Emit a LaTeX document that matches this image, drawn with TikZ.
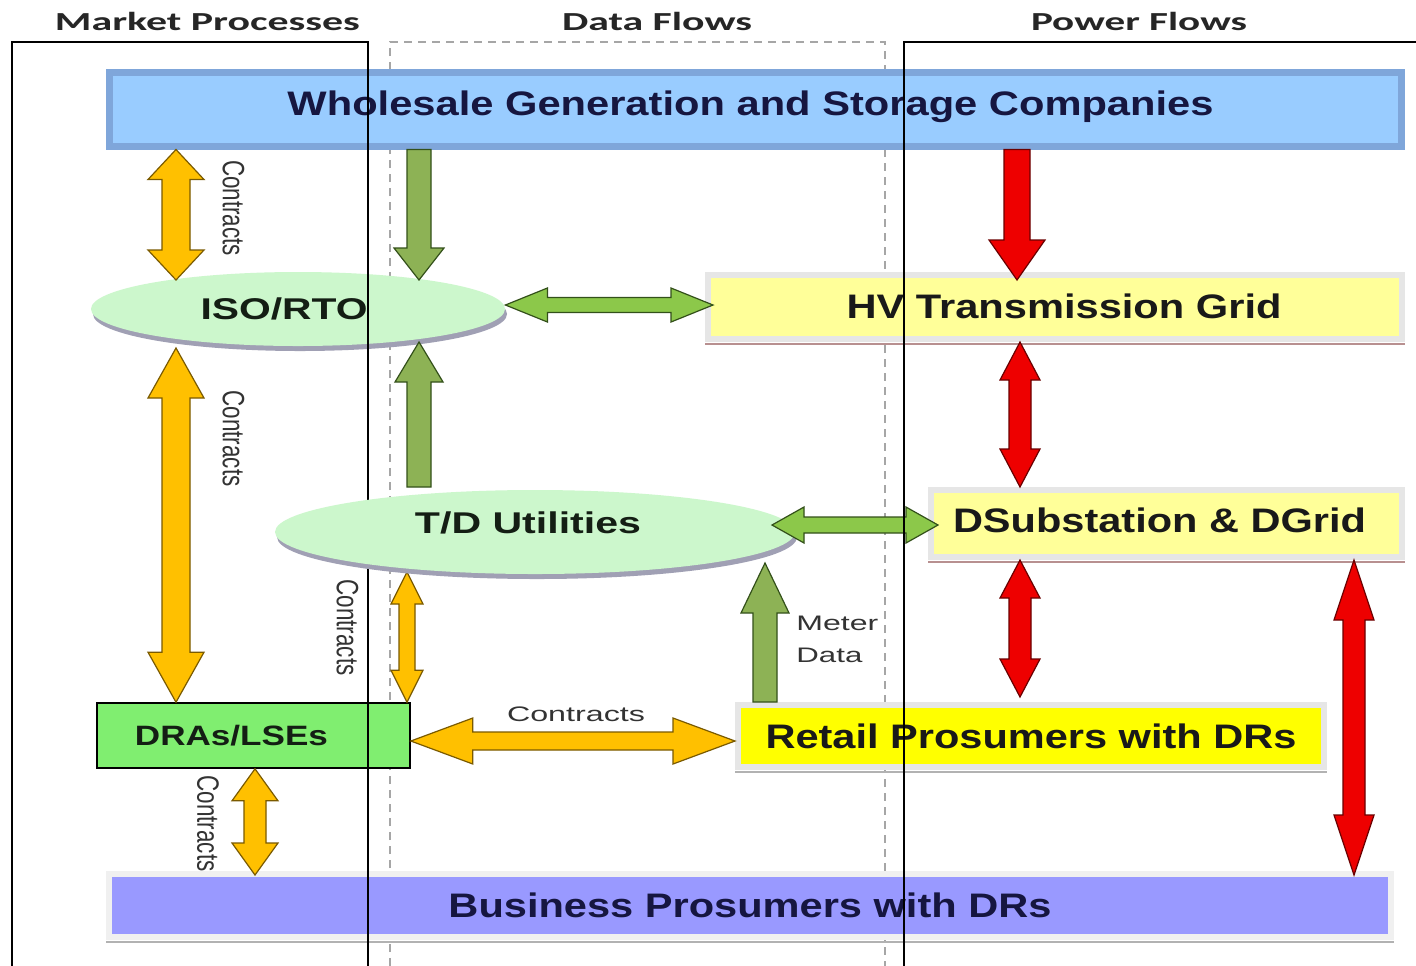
\documentclass[tikz,border=0pt]{standalone}
\usepackage{fontspec}
\usepackage{graphicx}
\setmainfont{Liberation Sans}
\newfontfamily\hdfont{Carlito}
\usetikzlibrary{calc,shapes.geometric,shadows}

\definecolor{wsgin}{HTML}{99CCFF}
\definecolor{wsgout}{HTML}{7FA6DA}
\definecolor{isofill}{HTML}{CCF7CC}
\definecolor{hvfill}{HTML}{FFFF99}
\definecolor{retfill}{HTML}{FFFF00}
\definecolor{busfill}{HTML}{9999FF}
\definecolor{drafill}{HTML}{80EE70}
\definecolor{navy}{HTML}{161640}
\definecolor{darktxt}{HTML}{141E14}
\definecolor{yarr}{HTML}{FFC000}
\definecolor{yarrline}{HTML}{7A5A00}
\definecolor{garr}{HTML}{8DB255}
\definecolor{garrb}{HTML}{8CC84A}
\definecolor{garrline}{HTML}{33501A}
\definecolor{rarr}{HTML}{EE0000}
\definecolor{rarrline}{HTML}{6A0000}
\definecolor{boxedge}{HTML}{E6E6E6}
\definecolor{boxline}{HTML}{B89090}
\definecolor{shadowc}{HTML}{A0A0B4}

% double block arrow: #1 style, #2 tip A, #3 tip B, #4 half shaft, #5 half head, #6 head length
\newcommand\dbarrow[6]{%
  \coordinate (hA) at ($(#2)!#6!(#3)$);
  \coordinate (hB) at ($(#3)!#6!(#2)$);
  \filldraw[#1] (#2) -- ($(hA)!#5!90:(#3)$) -- ($(hA)!#4!90:(#3)$)
    -- ($(hB)!#4!-90:(#2)$) -- ($(hB)!#5!-90:(#2)$) -- (#3)
    -- ($(hB)!#5!90:(#2)$) -- ($(hB)!#4!90:(#2)$)
    -- ($(hA)!#4!-90:(#3)$) -- ($(hA)!#5!-90:(#3)$) -- cycle;}
% single block arrow, tip at #3
\newcommand\sgarrow[6]{%
  \coordinate (hB) at ($(#3)!#6!(#2)$);
  \filldraw[#1] ($(#2)!#4!90:(#3)$) -- ($(hB)!#4!-90:(#2)$) -- ($(hB)!#5!-90:(#2)$) -- (#3)
    -- ($(hB)!#5!90:(#2)$) -- ($(hB)!#4!90:(#2)$) -- ($(#2)!#4!-90:(#3)$) -- cycle;}

\tikzset{
 yblock/.style={fill=yarr,draw=yarrline,line width=0.6pt},
 gblock/.style={fill=garr,draw=garrline,line width=0.6pt},
 gblockb/.style={fill=garrb,draw=garrline,line width=0.6pt},
 rblock/.style={fill=rarr,draw=rarrline,line width=0.6pt},
 softbox/.style={rectangle,inner sep=0pt,line width=3pt,draw=boxedge},
 ovalnode/.style={ellipse,inner sep=0pt,fill=isofill,draw=none,
   drop shadow={shadow xshift=1pt,shadow yshift=-2.5pt,fill=shadowc,opacity=1}},
 frameline/.style={draw=black,line width=1pt},
 dashframe/.style={draw=gray!70,line width=0.6pt,dash pattern=on 4pt off 3pt},
 hdrlbl/.style={font=\hdfont\bfseries\fontsize{13}{13}\selectfont,text=black!85},
 mainlbl/.style={font=\bfseries\fontsize{17}{17}\selectfont},
 ovallbl/.style={font=\bfseries\fontsize{15}{15}\selectfont,text=darktxt,inner sep=0pt},
 smalllbl/.style={font=\fontsize{10.5}{16}\selectfont,text=black!80},
 bottomline/.style={draw=boxline,line width=1.2pt},
}

\begin{document}
\begin{tikzpicture}[x=0.5pt,y=-0.5pt]
\useasboundingbox (0,0) rectangle (1416,965);
\fill[white] (0,0) rectangle (1416,965);

% headers
\node[hdrlbl] (hmp) at (207.5,21) {\resizebox{152.5pt}{\height}{Market Processes}};
\node[hdrlbl] (hdf) at (657,21) {\resizebox{95pt}{\height}{Data Flows}};
\node[hdrlbl] (hpf) at (1139,21) {\resizebox{108pt}{\height}{Power Flows}};

% dashed data-flow frame
\draw[dashframe] (390,966) -- (390,42) -- (885,42) -- (885,966);

% boxes
\node[rectangle,inner sep=0pt,fill=wsgin,draw=wsgout,line width=3.5pt,
  minimum width=646pt,minimum height=37pt,
  label={[mainlbl,text=navy,inner sep=0pt,xshift=-2.5pt,yshift=1pt]center:\resizebox{463pt}{\height}{Wholesale Generation and Storage Companies}}] (wsg) at (755.5,109) {};

\node[ovalnode,minimum width=207pt,minimum height=37pt,
  label={[ovallbl,xshift=-7pt]center:\resizebox{83.5pt}{\height}{ISO/RTO}}] (iso) at (298,309) {};

\node[softbox,fill=hvfill,minimum width=347pt,minimum height=32pt,
  label={[mainlbl,text=black!90,inner sep=0pt,xshift=4.5pt,yshift=0.5pt]center:\resizebox{217.5pt}{\height}{HV Transmission Grid}}] (hv) at (1055,307) {};
\draw[bottomline] ([yshift=-1pt]hv.south west) -- ([yshift=-1pt]hv.south east);

\node[softbox,fill=hvfill,minimum width=235.5pt,minimum height=33.5pt,
  label={[mainlbl,text=black!90,inner sep=0pt,xshift=-3.5pt,yshift=1.5pt]center:\resizebox{206.5pt}{\height}{DSubstation \& DGrid}}] (dsub) at (1166.5,523.5) {};
\draw[bottomline] ([yshift=-1pt]dsub.south west) -- ([yshift=-1pt]dsub.south east);

\node[softbox,fill=retfill,minimum width=293pt,minimum height=31pt,text=black!90,mainlbl] (ret) at (1031,736)
  {\resizebox{265.5pt}{\height}{Retail Prosumers with DRs}};
\draw[bottomline,draw=gray!60] ([yshift=-1pt]ret.south west) -- ([yshift=-1pt]ret.south east);

\node[softbox,draw=gray!12,fill=busfill,minimum width=641pt,minimum height=31.5pt,text=navy,mainlbl] (bus) at (750,905.5)
  {\resizebox{301.5pt}{\height}{Business Prosumers with DRs}};
\draw[bottomline,draw=gray!60] ([yshift=-1pt]bus.south west) -- ([yshift=-1pt]bus.south east);

\node[rectangle,inner sep=0pt,fill=drafill,draw=black,line width=0.8pt,
  minimum width=156.5pt,minimum height=32.5pt,
  label={[font=\bfseries\fontsize{14}{14}\selectfont,text=darktxt,inner sep=0pt,xshift=-11pt]center:\resizebox{96.5pt}{\height}{DRAs/LSEs}}] (dra) at (253.5,735.5) {};

% arrow end points
\coordinate (a1s) at (176,0 |- wsg.south);  \coordinate (a1e) at (176,280);
\coordinate (a2s) at (419,0 |- wsg.south);  \coordinate (a2e) at (419,280);
\coordinate (a3s) at (1017,0 |- wsg.south); \coordinate (a3e) at (1017,280);
\coordinate (a4s) at (iso.east |- 0,305);   \coordinate (a4e) at (713,305);
\coordinate (a5s) at (176,348);             \coordinate (a5e) at (176,0 |- dra.north);
\coordinate (a6s) at (419,487);             \coordinate (a6e) at (419,342);
\coordinate (a7s) at (1020,0 |- hv.south);  \coordinate (a7e) at (1020,0 |- dsub.north);
\coordinate (a8s) at (772,525);             \coordinate (a8e) at (938,525);
\coordinate (a9s) at (407,572);             \coordinate (a9e) at (407,0 |- dra.north);
\coordinate (a10s) at (765,0 |- ret.north); \coordinate (a10e) at (765,563);
\coordinate (a11s) at (1020,0 |- dsub.south); \coordinate (a11e) at (1020,697);
\coordinate (a12s) at (1354,0 |- dsub.south); \coordinate (a12e) at (1354,875);
\coordinate (a13s) at (dra.east |- 0,741);  \coordinate (a13e) at (735,741);
\coordinate (a14s) at (255,0 |- dra.south); \coordinate (a14e) at (255,875);

% block arrows
\dbarrow{yblock}{a1s}{a1e}{7pt}{14pt}{15pt}
\sgarrow{gblock}{a2s}{a2e}{6pt}{12.5pt}{16pt}
\sgarrow{rblock}{a3s}{a3e}{6.5pt}{14pt}{20pt}
\dbarrow{gblockb}{a4s}{a4e}{3.75pt}{8.5pt}{21pt}
\dbarrow{yblock}{a5s}{a5e}{7pt}{14pt}{25pt}
\sgarrow{gblock}{a6s}{a6e}{6pt}{12pt}{20pt}
\dbarrow{rblock}{a7s}{a7e}{5.5pt}{10pt}{19pt}
\dbarrow{yblock}{a9s}{a9e}{4pt}{8pt}{16pt}
\sgarrow{gblock}{a10s}{a10e}{6pt}{12pt}{25pt}
\dbarrow{rblock}{a11s}{a11e}{5.5pt}{10pt}{19pt}
\dbarrow{rblock}{a12s}{a12e}{5.5pt}{10pt}{30pt}
\dbarrow{yblock}{a13s}{a13e}{4.5pt}{11.5pt}{31pt}
\dbarrow{yblock}{a14s}{a14e}{5.5pt}{11.5pt}{16pt}

% labels
\node[smalllbl,rotate=-90] (c1) at (233.5,208) {\resizebox{48pt}{1.47\height}{Contracts}};
\node[smalllbl,rotate=-90] (c2) at (233.5,438.5) {\resizebox{48pt}{1.47\height}{Contracts}};
\node[smalllbl,rotate=-90] (c3) at (347.5,627.5) {\resizebox{48pt}{1.47\height}{Contracts}};
\node[smalllbl,rotate=-90] (c4) at (208,823.5) {\resizebox{48pt}{1.47\height}{Contracts}};
\node[smalllbl] (c5) at (576,714) {\resizebox{69pt}{\height}{Contracts}};
\node[smalllbl,align=left,anchor=west,inner sep=0pt] (meter) at (796,639)
  {\resizebox{41pt}{\height}{Meter}\\\resizebox{33pt}{\height}{Data}};

% left frame
\draw[frameline] (12,966) -- (12,42) -- (368,42) -- (368,966);

% T/D utilities (drawn over the frame line)
\node[ovalnode,minimum width=260pt,minimum height=42pt,
  label={[ovallbl,xshift=-3.5pt,yshift=4.5pt]center:\resizebox{113pt}{\height}{T/D Utilities}}] (td) at (535,532) {};
\dbarrow{gblockb}{a8s}{a8e}{4pt}{9pt}{16pt}

% right frame
\draw[frameline] (904,966) -- (904,42) -- (1417,42);
\end{tikzpicture}
\end{document}
